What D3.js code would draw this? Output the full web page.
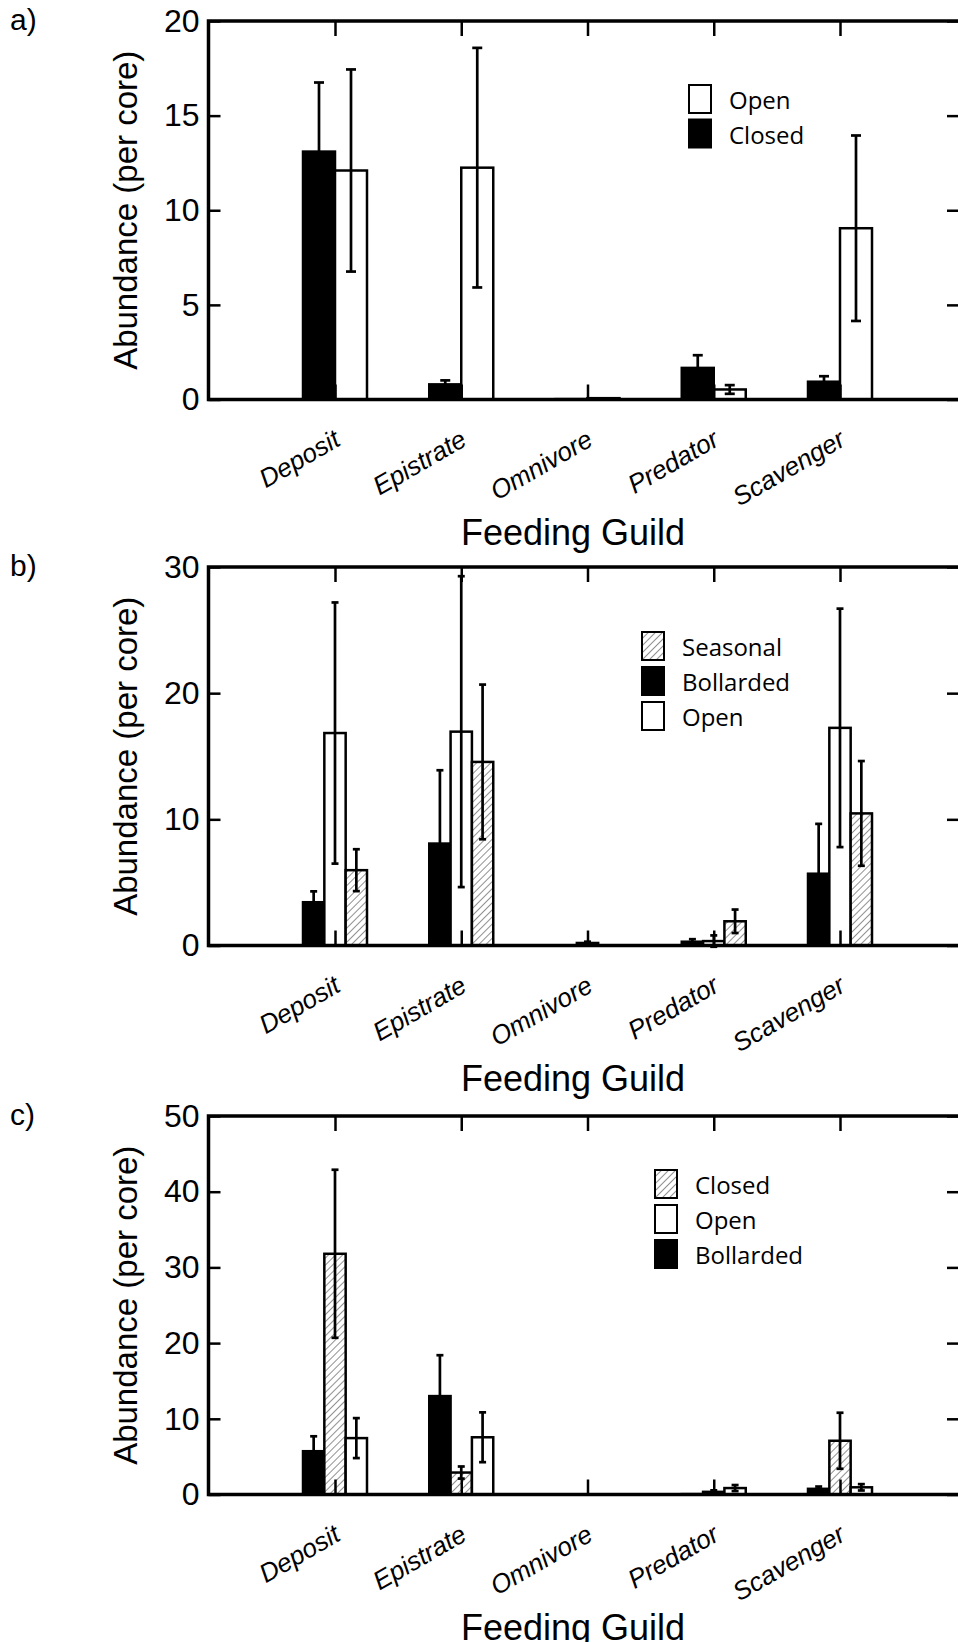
<!DOCTYPE html>
<html lang="en">
<head>
<meta charset="utf-8">
<title>Abundance per feeding guild</title>
<script src="https://d3js.org/d3.v7.min.js"></script>
<style>
  body { margin: 0; background: #fff; }
  svg { display: block; }
</style>
</head>
<body>
<script>

// ---- data ----
var categories = ["Deposit", "Epistrate", "Omnivore", "Predator", "Scavenger"];

// panel a
var aSeries = ["Closed", "Open"];
var aClosed = [13.1, 0.8, 0.02, 1.67, 0.94];
var aClosedErr = [3.65, 0.21, 0, 0.67, 0.29];
var aOpen = [12.1, 12.25, 0.07, 0.53, 9.05];
var aOpenErr = [5.34, 6.33, 0, 0.23, 4.9];
var aLegend = ["Open", "Closed"];
var aTicks = [0, 5, 10, 15, 20];

// panel b
var bSeries = ["Bollarded", "Open", "Seasonal"];
var bBollarded = [3.43, 8.08, 0, 0.3, 5.69];
var bBollardedErr = [0.86, 5.81, 0, 0.2, 3.95];
var bOpen = [16.84, 16.95, 0.2, 0.35, 17.25];
var bOpenErr = [10.35, 12.32, 0.1, 0.45, 9.45];
var bSeasonal = [5.97, 14.55, 0, 1.92, 10.47];
var bSeasonalErr = [1.66, 6.13, 0, 0.93, 4.15];
var bLegend = ["Seasonal", "Bollarded", "Open"];
var bTicks = [0, 10, 20, 30];

// panel c
var cSeries = ["Bollarded", "Closed", "Open"];
var cBollarded = [5.72, 13.0, 0, 0.05, 0.75];
var cBollardedErr = [1.97, 5.4, 0, 0, 0.3];
var cClosed = [31.8, 2.9, 0, 0.35, 7.1];
var cClosedErr = [11.1, 0.8, 0, 0.2, 3.7];
var cOpen = [7.45, 7.56, 0, 0.85, 0.95];
var cOpenErr = [2.64, 3.29, 0, 0.4, 0.42];
var cLegend = ["Closed", "Open", "Bollarded"];
var cTicks = [0, 10, 20, 30, 40, 50];

// ---- layout ----
var w = 958, h = 1642;
var left = 208.5, right = 961;
var plotH = 378.5;
var groupHalf = 32;
var arial = "'Liberation Sans', Arial, Helvetica, sans-serif";
var legendFont = "'Open Sans', 'Noto Sans', sans-serif";

var svg = d3.select("body").append("svg")
  .attr("width", w)
  .attr("height", h);

svg.append("rect").attr("width", w).attr("height", h).attr("fill", "#fff");

// diagonal hatch
var pat = svg.append("defs").append("pattern")
  .attr("id", "hatch")
  .attr("patternUnits", "userSpaceOnUse")
  .attr("width", 5)
  .attr("height", 5)
  .attr("patternTransform", "rotate(45)");
pat.append("rect").attr("width", 5).attr("height", 5).attr("fill", "#fff");
pat.append("line")
  .attr("x1", 0).attr("y1", 0).attr("x2", 0).attr("y2", 5)
  .attr("stroke", "#555").attr("stroke-width", 1.3);

var fills = { black: "#000", white: "#fff", hatch: "url(#hatch)" };

var x = d3.scalePoint()
  .domain(categories)
  .range([335, 840]);

function drawPanel(p) {
  var g = svg.append("g").attr("transform", "translate(0," + p.top + ")");

  var y = d3.scaleLinear()
    .domain([0, p.ticks[p.ticks.length - 1]])
    .range([plotH, 0]);

  var inner = d3.scaleBand()
    .domain(p.series.map(function (s) { return s.name; }))
    .range([-groupHalf, groupHalf]);

  // bars
  p.series.forEach(function (s) {
    g.append("g").selectAll("rect")
      .data(s.values)
      .join("rect")
      .attr("x", function (d, i) { return x(categories[i]) + inner(s.name); })
      .attr("y", function (d) { return y(d); })
      .attr("width", inner.bandwidth())
      .attr("height", function (d) { return y(0) - y(d); })
      .attr("fill", fills[s.style])
      .attr("stroke", "#000")
      .attr("stroke-width", 2.5);
  });

  // error bars
  p.series.forEach(function (s) {
    var eg = g.append("g").attr("stroke", "#000").attr("stroke-width", 2.7);
    s.values.forEach(function (v, i) {
      var e = s.errors[i];
      if (!e) return;
      var cx = x(categories[i]) + inner(s.name) + inner.bandwidth() / 2;
      eg.append("line")
        .attr("x1", cx).attr("x2", cx)
        .attr("y1", y(v - e)).attr("y2", y(v + e));
      [v - e, v + e].forEach(function (t) {
        eg.append("line")
          .attr("x1", cx - p.capW / 2).attr("x2", cx + p.capW / 2)
          .attr("y1", y(t)).attr("y2", y(t));
      });
    });
  });

  // axes with inward ticks
  var yAxis = d3.axisLeft(y).tickValues(p.ticks).tickSizeInner(-12).tickSizeOuter(0).tickPadding(9);
  var ga = g.append("g").attr("transform", "translate(" + left + ",0)").call(yAxis);
  ga.select(".domain").remove();
  ga.selectAll("line").attr("stroke", "#000").attr("stroke-width", 2.5);
  ga.selectAll("text")
    .attr("font-family", arial)
    .attr("font-size", 32)
    .attr("fill", "#000");

  var gr = g.append("g").attr("transform", "translate(" + right + ",0)")
    .call(d3.axisRight(y).tickValues(p.ticks).tickSizeInner(-14).tickSizeOuter(0).tickFormat(""));
  gr.select(".domain").remove();
  gr.selectAll("line").attr("stroke", "#000").attr("stroke-width", 2.5);

  var gt = g.append("g")
    .call(d3.axisTop(x).tickSizeInner(-15).tickSizeOuter(0).tickFormat(""));
  gt.select(".domain").remove();
  gt.selectAll("line").attr("stroke", "#000").attr("stroke-width", 2.5);

  var gb = g.append("g").attr("transform", "translate(0," + plotH + ")")
    .call(d3.axisBottom(x).tickSizeInner(-15).tickSizeOuter(0).tickFormat(""));
  gb.select(".domain").remove();
  gb.selectAll("line").attr("stroke", "#000").attr("stroke-width", 2.5);

  // frame
  g.append("path")
    .attr("d", "M" + right + ",0H" + left + "V" + plotH + "H" + right)
    .attr("fill", "none")
    .attr("stroke", "#000")
    .attr("stroke-width", 3.5);
  g.append("line")
    .attr("x1", right).attr("x2", right).attr("y1", 0).attr("y2", plotH)
    .attr("stroke", "#000").attr("stroke-width", 3.5);

  // category labels
  g.append("g").selectAll("text")
    .data(categories)
    .join("text")
    .attr("transform", function (d) {
      return "translate(" + (x(d) + 7) + "," + (plotH + 45) + ") rotate(-30)";
    })
    .attr("text-anchor", "end")
    .attr("font-family", arial)
    .attr("font-style", "italic")
    .attr("font-size", 26)
    .text(function (d) { return d; });

  // axis titles
  g.append("text")
    .attr("x", 573)
    .attr("y", plotH + 145)
    .attr("text-anchor", "middle")
    .attr("font-family", arial)
    .attr("font-size", 36)
    .text("Feeding Guild");

  g.append("text")
    .attr("transform", "translate(137," + (plotH / 2) + ") rotate(-90)")
    .attr("text-anchor", "middle")
    .attr("font-family", arial)
    .attr("font-size", 33)
    .text("Abundance (per core)");

  // panel letter
  g.append("text")
    .attr("x", 10)
    .attr("y", 9)
    .attr("font-family", arial)
    .attr("font-size", 30)
    .text(p.label);

  // legend
  var styleOf = {};
  p.series.forEach(function (s) { styleOf[s.name] = s.style; });
  var lg = g.append("g").attr("transform", "translate(" + p.legendX + "," + p.legendY + ")");
  p.legend.forEach(function (name, i) {
    lg.append("rect")
      .attr("x", 1)
      .attr("y", i * p.legendStep)
      .attr("width", 22)
      .attr("height", 28)
      .attr("fill", fills[styleOf[name]])
      .attr("stroke", "#000")
      .attr("stroke-width", 2);
    lg.append("text")
      .attr("x", 41)
      .attr("y", i * p.legendStep + 24)
      .attr("font-family", legendFont)
      .attr("font-size", 24)
      .text(name);
  });
}

drawPanel({
  label: "a)", top: 21, ticks: aTicks, capW: 10,
  series: [
    { name: "Closed", values: aClosed, errors: aClosedErr, style: "black" },
    { name: "Open", values: aOpen, errors: aOpenErr, style: "white" }
  ],
  legend: aLegend, legendX: 688, legendY: 64, legendStep: 34.5
});

drawPanel({
  label: "b)", top: 567, ticks: bTicks, capW: 7,
  series: [
    { name: "Bollarded", values: bBollarded, errors: bBollardedErr, style: "black" },
    { name: "Open", values: bOpen, errors: bOpenErr, style: "white" },
    { name: "Seasonal", values: bSeasonal, errors: bSeasonalErr, style: "hatch" }
  ],
  legend: bLegend, legendX: 641, legendY: 65, legendStep: 35
});

drawPanel({
  label: "c)", top: 1116, ticks: cTicks, capW: 7,
  series: [
    { name: "Bollarded", values: cBollarded, errors: cBollardedErr, style: "black" },
    { name: "Closed", values: cClosed, errors: cClosedErr, style: "hatch" },
    { name: "Open", values: cOpen, errors: cOpenErr, style: "white" }
  ],
  legend: cLegend, legendX: 654, legendY: 54, legendStep: 35
});

</script>
</body>
</html>
